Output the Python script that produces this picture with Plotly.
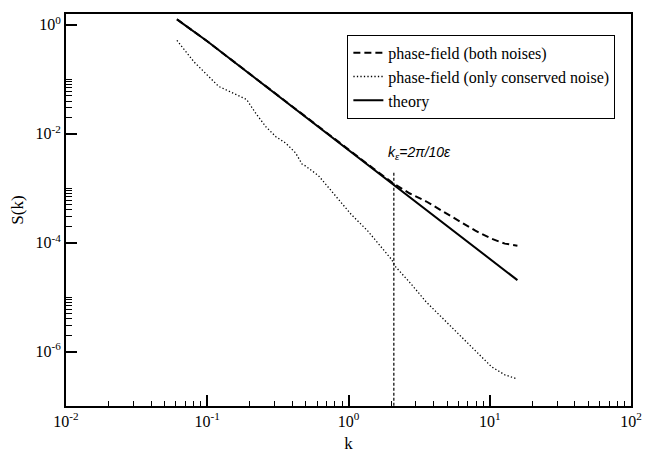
import plotly.graph_objects as go

# ---- data ----
k_theory = [0.061, 0.1, 0.2, 0.5, 1.0, 2.0, 5.0, 10.0, 15.7]
s_theory = [1.26, 0.50, 0.125, 0.020, 5.0e-3, 1.25e-3, 2.0e-4, 5.0e-5, 2.05e-5]

k_both = [0.061, 0.1, 0.2, 0.5, 1.0, 1.5, 2.09, 2.72, 3.56, 4.64, 6.06, 7.91, 10.3, 12.8, 15.7]
s_both = [1.27, 0.50, 0.126, 0.0202, 5.05e-3, 2.3e-3, 1.21e-3, 8.0e-4, 5.7e-4, 3.8e-4,
          2.5e-4, 1.66e-4, 1.18e-4, 9.6e-5, 8.8e-5]

k_cons = [0.061, 0.0809, 0.1205, 0.1616, 0.1897, 0.2224, 0.261, 0.306, 0.360, 0.422,
          0.470, 0.494, 0.612, 0.800, 1.045, 1.363, 1.778, 2.03, 2.14, 2.72, 3.55,
          4.64, 6.06, 7.91, 10.3, 12.8, 15.7]
s_cons = [0.52, 0.207, 0.0741, 0.0525, 0.0427, 0.0230, 0.01334, 0.00884, 0.00671, 0.00445,
          0.00276, 0.00258, 0.00171, 7.5e-4, 3.3e-4, 1.66e-4, 7.3e-5, 4.83e-5, 3.68e-5,
          1.85e-5, 8.15e-6, 4.1e-6, 2.07e-6, 1.04e-6, 5.25e-7, 3.73e-7, 3.13e-7]

k_eps = [2.094, 2.094]
s_eps = [1.93e-3, 1e-7]

x_tickvals = [0.01, 0.1, 1, 10, 100]
x_ticktext = ["10<sup>-2</sup>", "10<sup>-1</sup>", "10<sup>0</sup>", "10<sup>1</sup>", "10<sup>2</sup>"]
y_tickvals = [1, 1e-2, 1e-4, 1e-6]
y_ticktext = ["10<sup>0</sup>", "10<sup>-2</sup>", "10<sup>-4</sup>", "10<sup>-6</sup>"]

x_minor = [m * 10.0 ** d for d in (-2, -1, 0, 1) for m in range(2, 10)]
y_minor = [m * 10.0 ** d for d in (-2, -4, -6) for m in range(2, 11)]

serif = "Liberation Serif"

fig = go.Figure()
fig.add_trace(go.Scatter(x=k_both, y=s_both, mode="lines", name="phase-field (both noises)",
                         line=dict(color="black", width=2, dash="7px,4px")))
fig.add_trace(go.Scatter(x=k_cons, y=s_cons, mode="lines", name="phase-field (only conserved noise)",
                         line=dict(color="black", width=1.3, dash="1.3px,2.2px")))
fig.add_trace(go.Scatter(x=k_theory, y=s_theory, mode="lines", name="theory",
                         line=dict(color="black", width=2)))
fig.add_trace(go.Scatter(x=k_eps, y=s_eps, mode="lines", showlegend=False,
                         line=dict(color="black", width=1.2, dash="3px,2px")))

fig.add_annotation(x=0.262, y=-2.357, xref="x", yref="y", xanchor="left", yanchor="middle",
                   text="<i>k<sub>ε</sub>=2π/10ε</i>", showarrow=False,
                   font=dict(family="Liberation Sans", size=14, color="black"))

fig.update_xaxes(type="log", range=[-2, 2], tickmode="array", tickvals=x_tickvals, ticktext=x_ticktext,
                 ticks="inside", ticklen=11, tickwidth=1.5, tickcolor="black",
                 minor=dict(tickmode="array", tickvals=x_minor, ticks="inside", ticklen=5,
                            tickwidth=1.2, tickcolor="black", showgrid=False),
                 showline=True, linecolor="black", linewidth=2, mirror=True, showgrid=False,
                 zeroline=False, tickfont=dict(family=serif, size=16, color="black"),
                 title=dict(text="k", font=dict(family=serif, size=17, color="black"), standoff=8))
fig.update_yaxes(type="log", range=[-7, 0.2], tickmode="array", tickvals=y_tickvals, ticktext=y_ticktext,
                 ticks="inside", ticklen=11, tickwidth=1.5, tickcolor="black",
                 minor=dict(tickmode="array", tickvals=y_minor, ticks="inside", ticklen=6,
                            tickwidth=1.2, tickcolor="black", showgrid=False),
                 showline=True, linecolor="black", linewidth=2, mirror=True, showgrid=False,
                 zeroline=False, tickfont=dict(family=serif, size=16, color="black"),
                 title=dict(text="S(k)", font=dict(family=serif, size=17, color="black"), standoff=8))

fig.update_layout(
    width=652, height=460,
    margin=dict(l=66, r=10, t=14, b=43),
    paper_bgcolor="white", plot_bgcolor="white",
    font=dict(family=serif, color="black"),
    showlegend=True,
    hovermode=False,
    legend=dict(x=0.498, y=0.947, xanchor="left", yanchor="top",
                bordercolor="black", borderwidth=1, bgcolor="white",
                font=dict(family=serif, size=16, color="black"),
                tracegroupgap=0, itemwidth=30),
)

fig.write_html("out.html", config={"displayModeBar": False, "responsive": False},
               post_script="document.body.style.margin='0';")
